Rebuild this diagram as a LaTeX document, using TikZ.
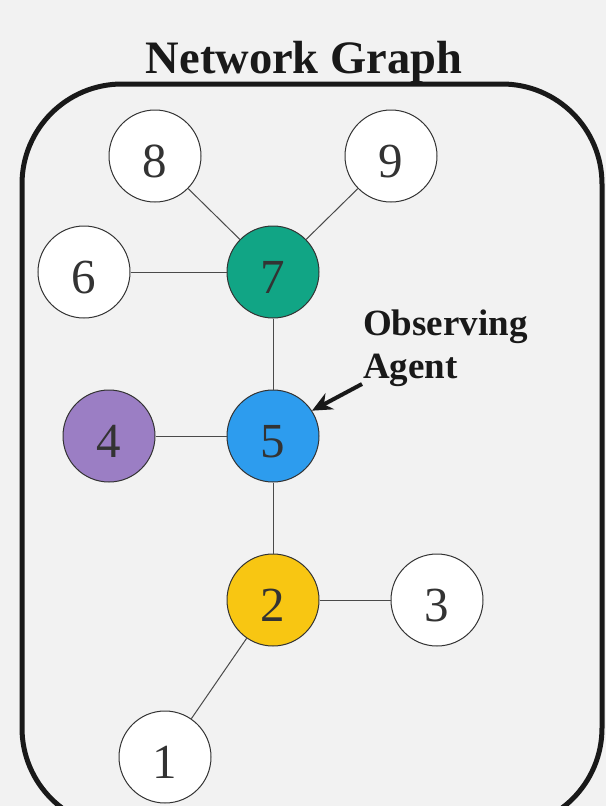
\documentclass[tikz,border=0pt]{standalone}
\usepackage{fontspec}
\setmainfont{Liberation Serif}
\usetikzlibrary{arrows.meta}
\definecolor{bg}{HTML}{F2F2F2}
\definecolor{cgreen}{HTML}{11A585}
\definecolor{cblue}{HTML}{2D9CEE}
\definecolor{cpurple}{HTML}{9B7EC4}
\definecolor{cyellow}{HTML}{F8C612}
\definecolor{ink}{HTML}{333333}
\definecolor{edgec}{HTML}{4A4A4A}
\begin{document}
\begin{tikzpicture}[x=1pt,y=-1pt,
  vertex/.style={circle,draw=ink,line width=1pt,minimum size=92pt,inner sep=0pt,
    text=ink,font=\fontsize{49}{49}\selectfont,fill=white,text height=43pt,text depth=0pt},
  link/.style={draw=edgec,line width=1pt}]
\useasboundingbox (0,0) rectangle (606,806);
\clip (0,0) rectangle (606,806);
\fill[bg] (0,0) rectangle (606,806);
\draw[line width=5pt,draw=black!90,rounded corners=100pt] (22,84) rectangle (602,828);
\node[anchor=base,font=\bfseries\fontsize{46.5}{46.5}\selectfont,text=black!90] (title) at (304,73) {Network Graph};
\node[vertex] (n8) at (155,156) {8};
\node[vertex] (n9) at (391,156) {9};
\node[vertex] (n6) at (84,272) {6};
\node[vertex,fill=cgreen] (n7) at (273,272) {7};
\node[vertex,fill=cpurple] (n4) at (109,436) {4};
\node[vertex,fill=cblue] (n5) at (273,436) {5};
\node[vertex,fill=cyellow] (n2) at (273,600) {2};
\node[vertex] (n3) at (437,600) {3};
\node[vertex] (n1) at (165,757) {1};
\draw[link] (n8) -- (n7);
\draw[link] (n9) -- (n7);
\draw[link] (n6) -- (n7);
\draw[link] (n7) -- (n5);
\draw[link] (n4) -- (n5);
\draw[link] (n5) -- (n2);
\draw[link] (n2) -- (n3);
\draw[link] (n2) -- (n1);
\node[anchor=base west,align=left,inner sep=0pt,text=black!90,
  font=\bfseries\fontsize{37}{43}\selectfont] (label) at (363,378) {Observing\\Agent};
\coordinate (tail) at (362,384);
\draw[line width=4pt,draw=black!90,-{Stealth[length=20pt,width=18pt]}] (tail) -- (n5.33);
\end{tikzpicture}
\end{document}
